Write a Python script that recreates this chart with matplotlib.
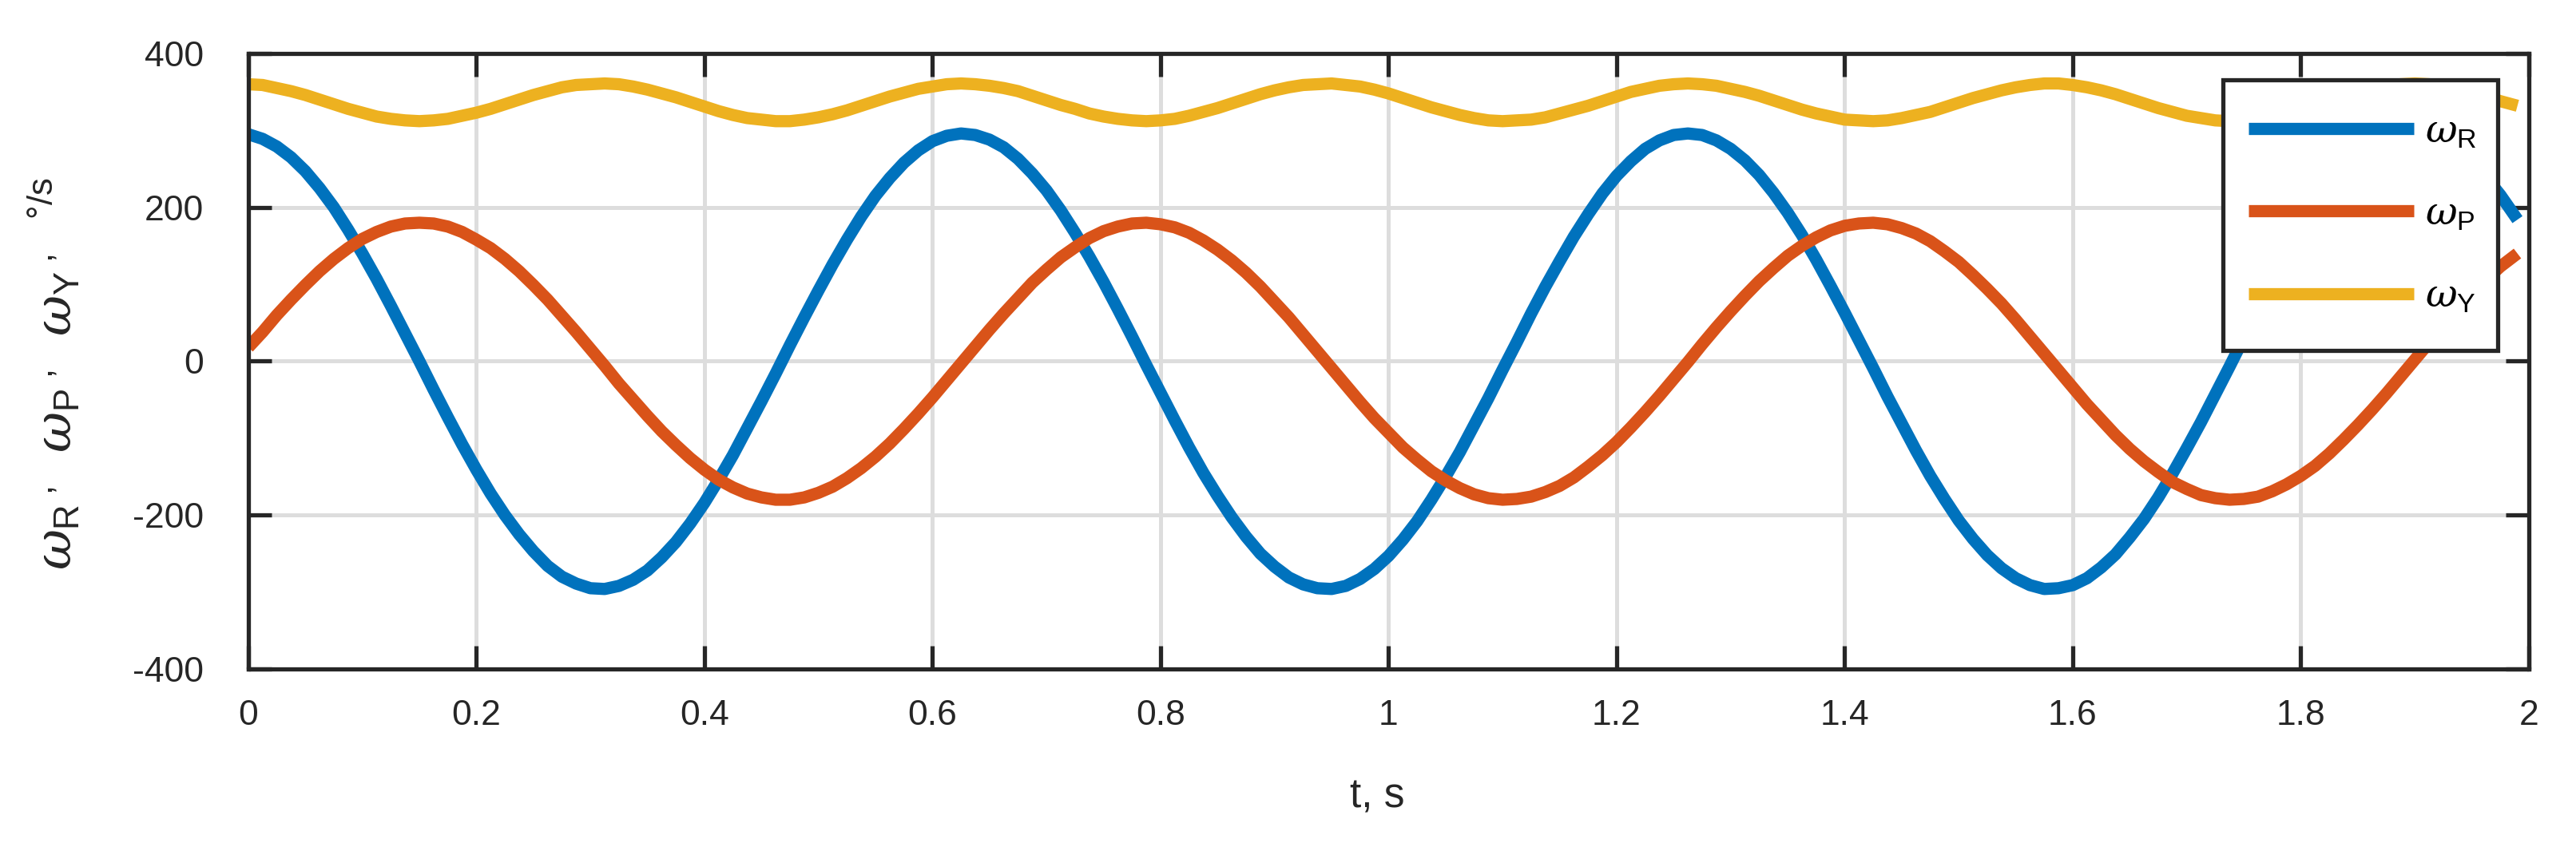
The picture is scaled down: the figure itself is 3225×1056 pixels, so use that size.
import numpy as np
import matplotlib as mp
mp.use('Agg')
import matplotlib.pyplot as plt
from matplotlib.patches import Rectangle

# time samples (s) and angular rates (deg/s)
t = [0.0, 0.0125, 0.025, 0.0375, 0.05, 0.0625, 0.075, 0.0875,
     0.1, 0.1125, 0.125, 0.1375, 0.15, 0.1625, 0.175, 0.1875,
     0.2, 0.2125, 0.225, 0.2375, 0.25, 0.2625, 0.275, 0.2875,
     0.3, 0.3125, 0.325, 0.3375, 0.35, 0.3625, 0.375, 0.3875,
     0.4, 0.4125, 0.425, 0.4375, 0.45, 0.4625, 0.475, 0.4875,
     0.5, 0.5125, 0.525, 0.5375, 0.55, 0.5625, 0.575, 0.5875,
     0.6, 0.6125, 0.625, 0.6375, 0.65, 0.6625, 0.675, 0.6875,
     0.7, 0.7125, 0.725, 0.7375, 0.75, 0.7625, 0.775, 0.7875,
     0.8, 0.8125, 0.825, 0.8375, 0.85, 0.8625, 0.875, 0.8875,
     0.9, 0.9125, 0.925, 0.9375, 0.95, 0.9625, 0.975, 0.9875,
     1.0, 1.0125, 1.025, 1.0375, 1.05, 1.0625, 1.075, 1.0875,
     1.1, 1.1125, 1.125, 1.1375, 1.15, 1.1625, 1.175, 1.1875,
     1.2, 1.2125, 1.225, 1.2375, 1.25, 1.2625, 1.275, 1.2875,
     1.3, 1.3125, 1.325, 1.3375, 1.35, 1.3625, 1.375, 1.3875,
     1.4, 1.4125, 1.425, 1.4375, 1.45, 1.4625, 1.475, 1.4875,
     1.5, 1.5125, 1.525, 1.5375, 1.55, 1.5625, 1.575, 1.5875,
     1.6, 1.6125, 1.625, 1.6375, 1.65, 1.6625, 1.675, 1.6875,
     1.7, 1.7125, 1.725, 1.7375, 1.75, 1.7625, 1.775, 1.7875,
     1.8, 1.8125, 1.825, 1.8375, 1.85, 1.8625, 1.875, 1.8875,
     1.9, 1.9125, 1.925, 1.9375, 1.95, 1.9625, 1.975, 1.99]

w_roll = [295, 289, 279, 265, 247, 225, 200, 171, 140, 107,
          72, 36, 0, -37, -73, -108, -141, -172, -200, -225,
          -247, -266, -280, -289, -295, -296, -292, -284, -272, -255,
          -235, -211, -184, -154, -122, -87, -52, -16, 21, 57,
          92, 126, 158, 188, 215, 238, 258, 274, 286, 293,
          296, 294, 288, 278, 263, 244, 222, 196, 167, 136,
          103, 68, 32, -5, -41, -77, -112, -145, -175, -203,
          -228, -250, -267, -281, -290, -295, -296, -292, -283, -270,
          -253, -232, -208, -180, -150, -118, -83, -48, -11, 25,
          62, 97, 130, 162, 191, 218, 241, 260, 276, 287,
          294, 296, 294, 287, 276, 261, 242, 219, 193, 164,
          132, 98, 63, 27, -9, -46, -81, -116, -149, -179,
          -207, -231, -252, -269, -282, -291, -296, -295, -291, -282,
          -268, -251, -229, -205, -177, -146, -113, -79, -43, -7,
          30, 66, 101, 135, 166, 195, 221, 243, 262, 277,
          288, 294, 296, 293, 286, 275, 259, 239, 216, 184]

w_pitch = [18, 38, 60, 80, 99, 117, 133, 147, 159, 168,
           175, 179, 180, 179, 175, 168, 158, 147, 133, 117,
           99, 80, 59, 38, 16, -6, -29, -50, -71, -91,
           -109, -126, -141, -154, -164, -172, -177, -180, -180, -177,
           -171, -163, -152, -139, -124, -107, -88, -68, -47, -25,
           -3, 19, 41, 62, 82, 102, 119, 135, 148, 160,
           169, 175, 179, 180, 178, 174, 167, 157, 145, 131,
           115, 97, 77, 57, 35, 13, -9, -31, -53, -74,
           -93, -112, -128, -143, -155, -165, -173, -178, -180, -179,
           -176, -170, -162, -151, -137, -122, -105, -86, -66, -45,
           -23, -1, 22, 44, 65, 85, 104, 121, 137, 150,
           161, 170, 176, 179, 180, 178, 173, 166, 156, 143,
           129, 112, 94, 75, 54, 32, 10, -12, -34, -56,
           -76, -96, -114, -130, -144, -157, -166, -174, -178, -180,
           -179, -176, -169, -160, -149, -136, -120, -102, -83, -63,
           -42, -20, 2, 24, 46, 67, 87, 106, 123, 140]

w_yaw = [360, 359, 355, 351, 346, 340, 334, 328, 323, 318,
         315, 313, 312, 313, 315, 319, 323, 328, 334, 340,
         346, 351, 356, 359, 360, 361, 360, 357, 353, 348,
         343, 337, 331, 325, 320, 316, 314, 312, 312, 314,
         317, 321, 326, 332, 338, 344, 349, 354, 357, 360,
         361, 360, 358, 355, 351, 345, 339, 333, 328, 322,
         318, 315, 313, 312, 313, 315, 319, 324, 329, 335,
         341, 347, 352, 356, 359, 360, 361, 359, 357, 353,
         348, 342, 336, 330, 325, 320, 316, 313, 312, 313,
         314, 317, 322, 327, 332, 338, 344, 350, 354, 358,
         360, 361, 360, 358, 354, 350, 345, 339, 333, 327,
         322, 318, 314, 313, 312, 313, 316, 320, 324, 330,
         336, 342, 347, 352, 356, 359, 361, 361, 359, 356,
         352, 347, 341, 335, 329, 324, 319, 316, 313, 312,
         313, 315, 318, 322, 327, 333, 339, 345, 350, 355,
         358, 360, 361, 360, 358, 354, 349, 344, 338, 332]

series = [w_roll, w_pitch, w_yaw]
names = [r'$\omega_\mathrm{R}$', r'$\omega_\mathrm{P}$', r'$\omega_\mathrm{Y}$']
colors = ['#0072BD', '#D95319', '#EDB120']

x_ticks = [0, 0.2, 0.4, 0.6, 0.8, 1, 1.2, 1.4, 1.6, 1.8, 2]
x_labels = ['0', '0.2', '0.4', '0.6', '0.8', '1', '1.2', '1.4', '1.6', '1.8', '2']
y_ticks = [-400, -200, 0, 200, 400]

plt.rcParams['font.family'] = ['Liberation Sans', 'DejaVu Sans']
plt.rcParams['mathtext.fontset'] = 'custom'
plt.rcParams['mathtext.rm'] = 'Liberation Sans'
plt.rcParams['mathtext.it'] = 'DejaVu Serif:italic'
plt.rcParams['mathtext.sf'] = 'Liberation Sans'
plt.rcParams['axes.unicode_minus'] = False

dark = '#262626'
W, H = 3225, 1056

fig = plt.figure(figsize=(W / 100, H / 100), dpi=100)
ax = fig.add_axes([0.0964, 0.2064, 0.8853, 0.7302])

lines = []
for vals, name, col in zip(series, names, colors):
    ln, = ax.plot(t, vals, color=col, lw=11, label=name, solid_capstyle='butt',
                  solid_joinstyle='round')
    lines.append(ln)

ax.set_xlim(0, 2)
ax.set_ylim(-400, 400)
ax.set_xticks(x_ticks)
ax.set_xticklabels(x_labels)
ax.set_yticks(y_ticks)
ax.grid(True, color='#dddddd', lw=3.6)
ax.set_axisbelow(True)

for s in ax.spines.values():
    s.set_linewidth(3.8)
    s.set_color(dark)
ax.tick_params(direction='in', length=21, width=3.8, color=dark,
               labelsize=32, labelcolor=dark, top=True, right=True)
ax.tick_params(axis='x', pad=27)
ax.tick_params(axis='y', pad=40)

ax.set_xlabel('t, s', fontsize=37, color=dark, labelpad=41)
ax.xaxis.label.set_x(0.495)
ax.set_ylabel(r'$\omega_\mathrm{R}\,{}^{,}\ \ \omega_\mathrm{P}\,{}^{,}\ \ '
              r'\omega_\mathrm{Y}\,{}^{,}\ \ {}^{\mathrm{°/s}}$',
              fontsize=45, color=dark)
ax.yaxis.set_label_coords(-0.0729, 0.48)

# legend box (drawn separately so its padding matches the MATLAB look)
box = Rectangle((2783 / W, 1 - 439 / H), (3127 - 2783) / W, (439 - 100) / H,
                transform=fig.transFigure, facecolor='white', edgecolor=dark,
                lw=3.8, zorder=4)
fig.add_artist(box)
leg = fig.legend(lines, names, loc='center left',
                 bbox_to_anchor=(2815 / W, 1 - 269 / H),
                 frameon=False, borderpad=0, borderaxespad=0,
                 fontsize=35, handlelength=4.26, handletextpad=0.29,
                 labelspacing=1.2)
leg.set_zorder(5)

plt.savefig('out.png', dpi=100)
